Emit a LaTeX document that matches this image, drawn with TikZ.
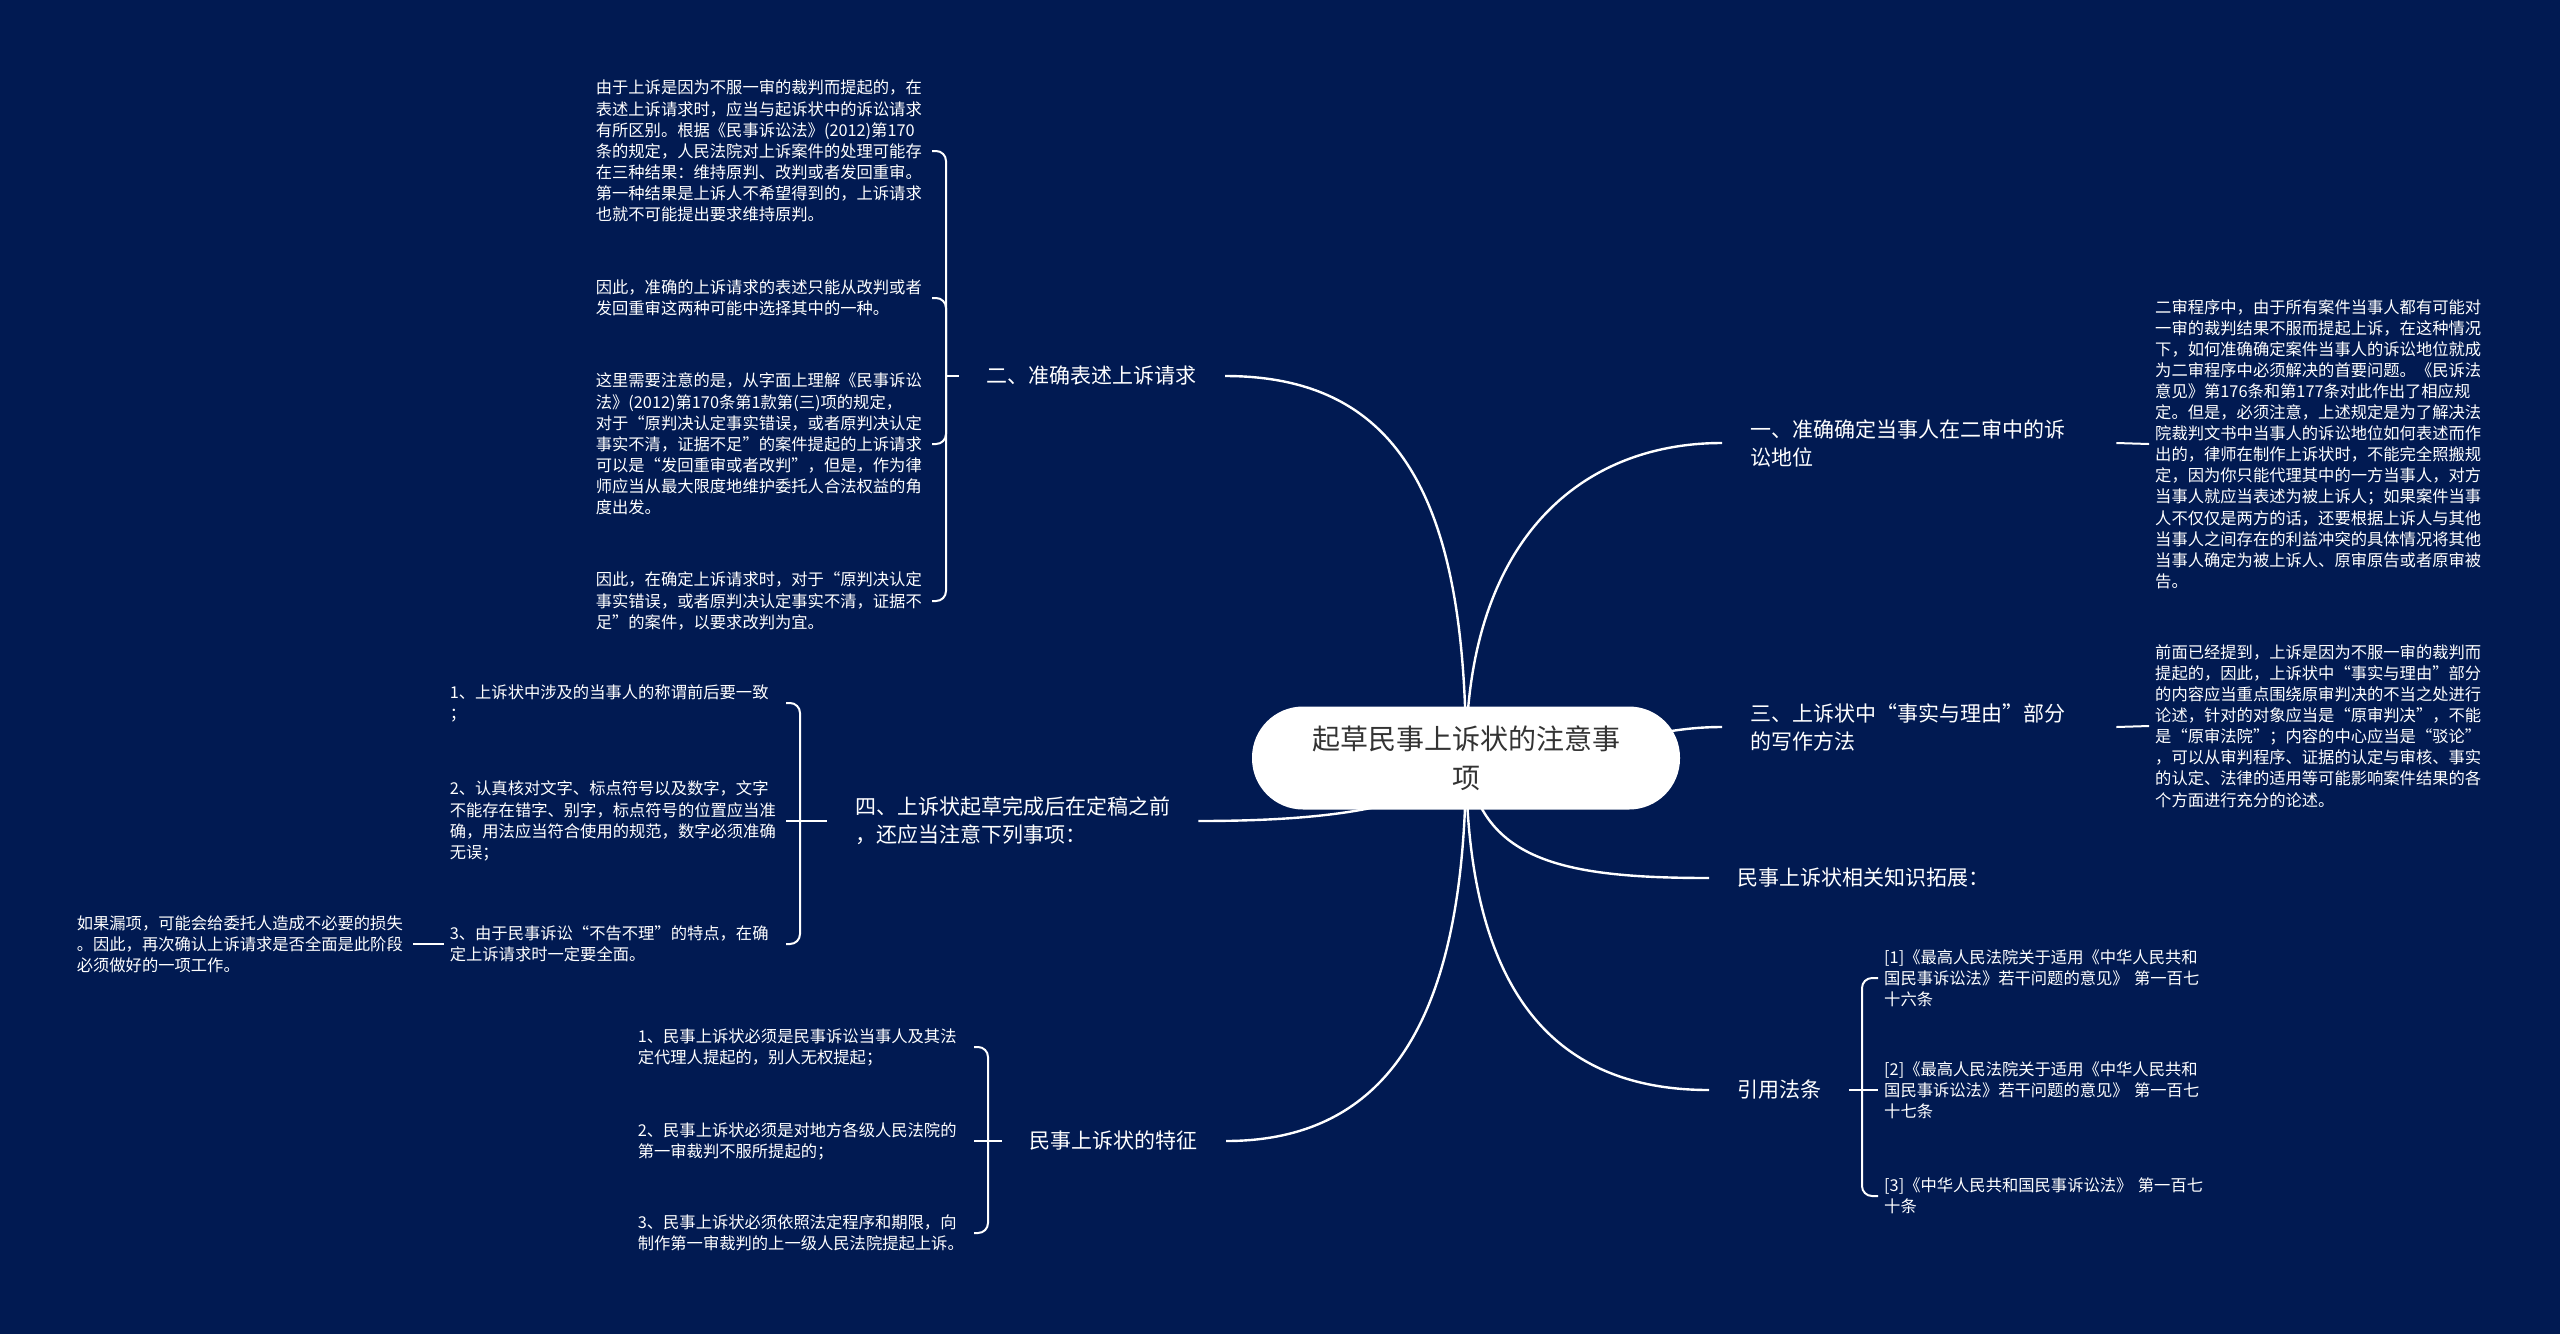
\documentclass[tikz,border=0pt]{standalone}
\usepackage{fontspec}
\setmainfont{Noto Sans CJK SC}
\usetikzlibrary{backgrounds}

\definecolor{fondo}{RGB}{1,26,82}
\definecolor{textoraiz}{RGB}{51,51,51}

\begin{document}
\begin{tikzpicture}[
  x=1pt, y=-1pt,
  rama/.style={text=white, align=left, inner xsep=28pt, inner ysep=3pt, font=\fontsize{21}{28}\selectfont},
  hoja/.style={text=white, align=left, text width=330pt, inner xsep=6pt, inner ysep=3pt, font=\fontsize{16.3}{21.1}\selectfont},
  enlace/.style={white, line width=2.4pt},
  llave/.style={white, line width=2pt}
]
  \useasboundingbox (0,0) rectangle (2560,1334);

  % ==========================================
  % 1. NODO CENTRAL Y RAMAS
  % ==========================================
  \node[fill=white, rounded corners=51pt, minimum width=428pt, minimum height=103pt,
        align=center, text=textoraiz, font=\fontsize{28}{39}\selectfont] (raiz) at (1466,758)
    {起草民事上诉状的注意事\\项};

  \node[rama, anchor=west, text width=338pt] (b1) at (1722,443) {一、准确确定当事人在二审中的诉\\讼地位};
  \node[rama, anchor=west, text width=338pt] (b3) at (1722,727) {三、上诉状中“事实与理由”部分\\的写作方法};
  \node[rama, anchor=west] (b4) at (1709,878) {民事上诉状相关知识拓展：};
  \node[rama, anchor=west] (b5) at (1709,1090) {引用法条};
  \node[rama, anchor=east] (b2) at (1225,376) {二、准确表述上诉请求};
  \node[rama, anchor=west] (b6) at (827,821) {四、上诉状起草完成后在定稿之前\\，还应当注意下列事项：};
  \node[rama, anchor=east] (b7) at (1226,1141) {民事上诉状的特征};

  % ==========================================
  % 2. HOJAS (textos de detalle)
  % ==========================================
  % derecha
  \node[hoja, anchor=west] (a1) at (2149,444) {二审程序中，由于所有案件当事人都有可能对\\一审的裁判结果不服而提起上诉，在这种情况\\下，如何准确确定案件当事人的诉讼地位就成\\为二审程序中必须解决的首要问题。《民诉法\\意见》第176条和第177条对此作出了相应规\\定。但是，必须注意，上述规定是为了解决法\\院裁判文书中当事人的诉讼地位如何表述而作\\出的，律师在制作上诉状时，不能完全照搬规\\定，因为你只能代理其中的一方当事人，对方\\当事人就应当表述为被上诉人；如果案件当事\\人不仅仅是两方的话，还要根据上诉人与其他\\当事人之间存在的利益冲突的具体情况将其他\\当事人确定为被上诉人、原审原告或者原审被\\告。};
  \node[hoja, anchor=west] (a3) at (2149,726) {前面已经提到，上诉是因为不服一审的裁判而\\提起的，因此，上诉状中“事实与理由”部分\\的内容应当重点围绕原审判决的不当之处进行\\论述，针对的对象应当是“原审判决”，不能\\是“原审法院”；内容的中心应当是“驳论”\\，可以从审判程序、证据的认定与审核、事实\\的认定、法律的适用等可能影响案件结果的各\\个方面进行充分的论述。};
  \node[hoja, anchor=west] (f1) at (1878,978) {[1]《最高人民法院关于适用《中华人民共和\\国民事诉讼法》若干问题的意见》 第一百七\\十六条};
  \node[hoja, anchor=west] (f2) at (1878,1090) {[2]《最高人民法院关于适用《中华人民共和\\国民事诉讼法》若干问题的意见》 第一百七\\十七条};
  \node[hoja, anchor=west] (f3) at (1878,1196) {[3]《中华人民共和国民事诉讼法》 第一百七\\十条};

  % izquierda
  \node[hoja, anchor=east] (q1) at (932,151) {由于上诉是因为不服一审的裁判而提起的，在\\表述上诉请求时，应当与起诉状中的诉讼请求\\有所区别。根据《民事诉讼法》(2012)第170\\条的规定，人民法院对上诉案件的处理可能存\\在三种结果：维持原判、改判或者发回重审。\\第一种结果是上诉人不希望得到的，上诉请求\\也就不可能提出要求维持原判。};
  \node[hoja, anchor=east] (q2) at (932,298) {因此，准确的上诉请求的表述只能从改判或者\\发回重审这两种可能中选择其中的一种。};
  \node[hoja, anchor=east] (q3) at (932,444) {这里需要注意的是，从字面上理解《民事诉讼\\法》(2012)第170条第1款第(三)项的规定，\\对于“原判决认定事实错误，或者原判决认定\\事实不清，证据不足”的案件提起的上诉请求\\可以是“发回重审或者改判”，但是，作为律\\师应当从最大限度地维护委托人合法权益的角\\度出发。};
  \node[hoja, anchor=east] (q4) at (932,601) {因此，在确定上诉请求时，对于“原判决认定\\事实错误，或者原判决认定事实不清，证据不\\足”的案件，以要求改判为宜。};

  \node[hoja, anchor=east] (s1) at (786,703) {1、上诉状中涉及的当事人的称谓前后要一致\\；};
  \node[hoja, anchor=east] (s2) at (786,821) {2、认真核对文字、标点符号以及数字，文字\\不能存在错字、别字，标点符号的位置应当准\\确，用法应当符合使用的规范，数字必须准确\\无误；};
  \node[hoja, anchor=east] (s3) at (786,944) {3、由于民事诉讼“不告不理”的特点，在确\\定上诉请求时一定要全面。};
  \node[hoja, anchor=east] (s3a) at (413,944) {如果漏项，可能会给委托人造成不必要的损失\\。因此，再次确认上诉请求是否全面是此阶段\\必须做好的一项工作。};

  \node[hoja, anchor=east] (t1) at (974,1047) {1、民事上诉状必须是民事诉讼当事人及其法\\定代理人提起的，别人无权提起；};
  \node[hoja, anchor=east] (t2) at (974,1141) {2、民事上诉状必须是对地方各级人民法院的\\第一审裁判不服所提起的；};
  \node[hoja, anchor=east] (t3) at (974,1233) {3、民事上诉状必须依照法定程序和期限，向\\制作第一审裁判的上一级人民法院提起上诉。};

  % puntos de las llaves
  \coordinate (qb) at (946,376);
  \coordinate (sb) at (800,821);
  \coordinate (tb) at (988,1141);
  \coordinate (fb) at (1862,1090);

  % ==========================================
  % 3. CONECTORES (al fondo)
  % ==========================================
  \begin{scope}[on background layer]
    \fill[fondo] (0,0) rectangle (2560,1334);

    \draw[enlace] (raiz.center) .. controls (1466,540) and (1580,443) .. (b1.west);
    \draw[enlace] (raiz.center) .. controls (1600,758) and (1640,727) .. (b3.west);
    \draw[enlace] (raiz.center) .. controls (1480,860) and (1560,878) .. (b4.west);
    \draw[enlace] (raiz.center) .. controls (1466,1000) and (1560,1090) .. (b5.west);
    \draw[enlace] (raiz.center) .. controls (1466,500) and (1400,376) .. (b2.east);
    \draw[enlace] (raiz.center) .. controls (1440,800) and (1360,821) .. (b6.east);
    \draw[enlace] (raiz.center) .. controls (1466,1000) and (1400,1141) .. (b7.east);

    \draw[llave] (b1.east) -- (a1.west);
    \draw[llave] (b3.east) -- (a3.west);
    \draw[llave] (s3.west) -- (s3a.east);

    % llaves
    \draw[llave] (b2.west) -- (qb);
    \foreach \n in {q1,q2,q3,q4}
      \draw[llave, rounded corners=10pt] (qb) |- (\n.east);

    \draw[llave] (b6.west) -- (sb) -- (s2.east);
    \foreach \n in {s1,s3}
      \draw[llave, rounded corners=10pt] (sb) |- (\n.east);

    \draw[llave] (b7.west) -- (tb) -- (t2.east);
    \foreach \n in {t1,t3}
      \draw[llave, rounded corners=10pt] (tb) |- (\n.east);

    \draw[llave] (b5.east) -- (fb) -- (f2.west);
    \foreach \n in {f1,f3}
      \draw[llave, rounded corners=10pt] (fb) |- (\n.west);
  \end{scope}

\end{tikzpicture}
\end{document}
